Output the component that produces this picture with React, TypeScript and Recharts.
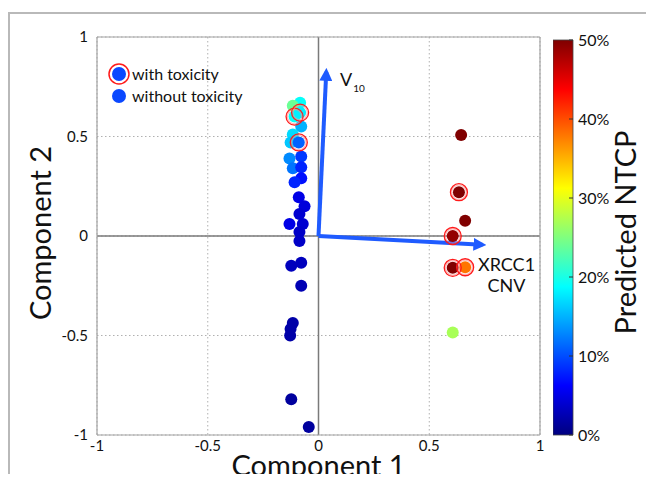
import {
  ScatterChart, Scatter, XAxis, YAxis, CartesianGrid, ReferenceLine,
  BarChart, Bar,
} from "recharts";

// ─── Data ────────────────────────────────────────────────────────────────────
const comp1 = [
  -0.083, -0.116, -0.108, -0.083, -0.078, -0.116, -0.126, -0.089, -0.131, -0.078,
  -0.116, -0.078, -0.078, -0.108, -0.089, -0.063, -0.086, -0.131, -0.071, -0.086,
  -0.086, -0.123, -0.078, -0.078, -0.116, -0.126, -0.128, -0.123, -0.044,
  0.644, 0.634, 0.662, 0.606, 0.606, 0.662, 0.606,
];
const comp2 = [
  0.67, 0.655, 0.6, 0.62, 0.55, 0.51, 0.47, 0.47, 0.39, 0.4,
  0.34, 0.345, 0.29, 0.27, 0.195, 0.15, 0.11, 0.06, 0.06, 0.02,
  -0.025, -0.15, -0.135, -0.25, -0.437, -0.467, -0.5, -0.82, -0.96,
  0.507, 0.22, 0.077, 0.0, -0.16, -0.157, -0.485,
];
const ntcp = [
  19, 24, 19, 18, 15, 17, 16, 11, 13, 9,
  12, 8, 7, 8, 5, 4.5, 4, 5, 4, 3.5,
  3.5, 3, 3, 2.5, 2, 2, 2, 1.5, 1.5,
  50, 50, 50, 49, 50, 38, 27,
];
const toxicity = [
  0, 0, 1, 1, 0, 0, 0, 1, 0, 0,
  0, 0, 0, 0, 0, 0, 0, 0, 0, 0,
  0, 0, 0, 0, 0, 0, 0, 0, 0,
  0, 1, 0, 1, 1, 1, 0,
];

const axisTicks = [-1, -0.5, 0, 0.5, 1];
const ntcpTicks = [0, 10, 20, 30, 40, 50];

const vectors = [
  { name: "V10", x: 0.035, y: 0.825 },
  { name: "XRCC1 CNV", x: 0.74, y: -0.044 },
];
const vectorLabels = [
  { x: 0.097, y: 0.754, main: "V", sub: "10" },
  { x: 0.849, y: -0.176, main: "XRCC1", line2: "CNV" },
];

const points = comp1.map((x, i) => ({ x, y: comp2[i], ntcp: ntcp[i], tox: toxicity[i] === 1 }));

// ─── Helpers ─────────────────────────────────────────────────────────────────
function jet(p: number) {
  const v = Math.max(0, Math.min(1, p / 50));
  const c = (t: number) => Math.round(255 * Math.max(0, Math.min(1, 1.5 - Math.abs(4 * v - t))));
  return `rgb(${c(3)},${c(2)},${c(1)})`;
}

const FONT = "Lato, 'Open Sans', sans-serif";
const ARROW = "#1f5bff";
const BORDER = "#a3a3a3";
const LEGEND_BLUE = "#0a48ff";

const tickStyle = { fontSize: 15, fill: "#111", fontFamily: FONT };

const DotShape = (p: any) => (
  <circle cx={p.cx} cy={p.cy} r={6} fill={jet(p.payload.ntcp)} />
);

const RingShape = (p: any) => (
  <g>
    <circle cx={p.cx} cy={p.cy} r={7.2} fill="none" stroke="#ff8a8a" strokeOpacity={0.6} strokeWidth={1.2} />
    <circle cx={p.cx} cy={p.cy} r={8.5} fill="none" stroke="#ff1a1a" strokeWidth={1.3} />
  </g>
);

const LabelShape = (p: any) => {
  const d = p.payload;
  if (d.sub) {
    return (
      <text x={p.cx} y={p.cy} fontSize={18} fontFamily={FONT} fill="#111">
        {d.main}
        <tspan fontSize={10} dx={1} dy={6}>{d.sub}</tspan>
      </text>
    );
  }
  return (
    <text x={p.cx} y={p.cy} fontSize={18} fontFamily={FONT} fill="#111" textAnchor="middle">
      <tspan x={p.cx}>{d.main}</tspan>
      <tspan x={p.cx} dy={21}>{d.line2}</tspan>
    </text>
  );
};

const LegendBox = () => (
  <div style={{ fontFamily: FONT, fontSize: 16, color: "#111", lineHeight: "22px" }}>
    <div style={{ display: "flex", alignItems: "center", height: 22 }}>
      <svg width={24} height={22}>
        <circle cx={12} cy={11} r={10} fill="#fff" stroke="#ff1a1a" strokeWidth={1.5} />
        <circle cx={12} cy={11} r={7} fill={LEGEND_BLUE} />
      </svg>
      <span style={{ marginLeft: 1 }}>with toxicity</span>
    </div>
    <div style={{ display: "flex", alignItems: "center", height: 22 }}>
      <svg width={24} height={22}>
        <circle cx={12} cy={11} r={7} fill={LEGEND_BLUE} />
      </svg>
      <span style={{ marginLeft: 1 }}>without toxicity</span>
    </div>
  </div>
);

const XTitle = (p: any) => {
  const vb = p.viewBox;
  return (
    <text x={vb.x + vb.width / 2} y={vb.y + vb.height + 11} textAnchor="middle"
      fontSize={29} fontFamily={FONT} fill="#111">Component 1</text>
  );
};

const YTitle = (p: any) => {
  const vb = p.viewBox;
  const x = vb.x + 14, y = vb.y + vb.height / 2 - 3;
  return (
    <text x={x} y={y} transform={`rotate(-90 ${x} ${y})`} textAnchor="middle"
      fontSize={29} fontFamily={FONT} fill="#111">Component 2</text>
  );
};

const CTitle = (p: any) => {
  const vb = p.viewBox;
  const x = vb.x + 63, y = vb.y + vb.height / 2 - 5;
  return (
    <text x={x} y={y} transform={`rotate(-90 ${x} ${y})`} textAnchor="middle"
      fontSize={29} fontFamily={FONT} fill="#111">Predicted NTCP</text>
  );
};

// ─── Colorbar ────────────────────────────────────────────────────────────────
function Colorbar() {
  return (
    <BarChart width={101} height={482} data={[{ name: "ntcp", v: 50 }]}
      margin={{ top: 40, right: 0, bottom: 47, left: 0 }} barCategoryGap={0}>
      <defs>
        <linearGradient id="jetGrad" x1="0" y1="1" x2="0" y2="0">
          <stop offset="0%" stopColor="#00007f" />
          <stop offset="12.5%" stopColor="#0000ff" />
          <stop offset="37.5%" stopColor="#00ffff" />
          <stop offset="62.5%" stopColor="#ffff00" />
          <stop offset="87.5%" stopColor="#ff0000" />
          <stop offset="100%" stopColor="#7f0000" />
        </linearGradient>
      </defs>
      <XAxis dataKey="name" hide />
      <YAxis orientation="right" width={81} domain={[0, 50]} ticks={ntcpTicks} type="number"
        tickFormatter={(v: number) => `${v}%`} tick={{ ...tickStyle, fontSize: 16 }}
        axisLine={false} tickLine={{ stroke: "#333" }} tickSize={-4} tickMargin={9}
        interval={0} label={<CTitle />} />
      <Bar dataKey="v" fill="url(#jetGrad)" stroke="#444" strokeWidth={0.8} isAnimationActive={false} />
    </BarChart>
  );
}

// ─── App ─────────────────────────────────────────────────────────────────────
export default function App() {
  return (
    <div style={{ position: "relative", width: 654, height: 482, margin: -8, overflow: "hidden", background: "#fff", fontFamily: FONT }}>
      <div style={{ position: "absolute", left: 8, top: 12, width: 700, height: 520, borderTop: "2px solid #b9b9b9", borderLeft: "2px solid #b9b9b9" }} />
      <div style={{ position: "absolute", left: 0, top: 0 }}>
        <ScatterChart width={654} height={482} margin={{ top: 37, right: 114, bottom: 17, left: 37 }}>
          <defs>
            <marker id="arrowHead" markerUnits="userSpaceOnUse" markerWidth={13} markerHeight={13}
              viewBox="0 0 13 13" refX={9} refY={6.5} orient="auto">
              <path d="M0,0 L13,6.5 L0,13 Z" fill={ARROW} />
            </marker>
          </defs>
          <CartesianGrid stroke="#b0b0b0" strokeDasharray="1.5 2.5" />
          <XAxis type="number" dataKey="x" domain={[-1, 1]} ticks={axisTicks} interval={0}
            height={30} tick={tickStyle} tickSize={0} tickMargin={5} axisLine={false}
            tickLine={false} label={<XTitle />} />
          <YAxis type="number" dataKey="y" domain={[-1, 1]} ticks={axisTicks} interval={0}
            width={60} tick={tickStyle} tickSize={0} tickMargin={9} axisLine={false}
            tickLine={false} label={<YTitle />} />
          <ReferenceLine x={0} stroke="#7a7a7a" strokeWidth={1.5} />
          <ReferenceLine y={0} stroke="#7a7a7a" strokeWidth={1.5} />
          <ReferenceLine x={-1} stroke={BORDER} strokeWidth={1.2} />
          <ReferenceLine x={1} stroke={BORDER} strokeWidth={1.2} />
          <ReferenceLine y={-1} stroke={BORDER} strokeWidth={1.2} />
          <ReferenceLine y={1} stroke={BORDER} strokeWidth={1.2} />
          <Scatter data={points} shape={DotShape} isAnimationActive={false} />
          <Scatter data={points.filter((d) => d.tox)} shape={RingShape} isAnimationActive={false} />
          {vectors.map((v) => (
            <ReferenceLine key={v.name} segment={[{ x: 0, y: 0 }, { x: v.x, y: v.y }]}
              stroke={ARROW} strokeWidth={4} markerEnd="url(#arrowHead)" ifOverflow="visible" />
          ))}
          <Scatter data={vectorLabels} shape={LabelShape} isAnimationActive={false} />
        </ScatterChart>
      </div>
      <div style={{ position: "absolute", left: 107, top: 63 }}>
        <LegendBox />
      </div>
      <div style={{ position: "absolute", left: 553, top: 0 }}>
        <Colorbar />
      </div>
    </div>
  );
}
